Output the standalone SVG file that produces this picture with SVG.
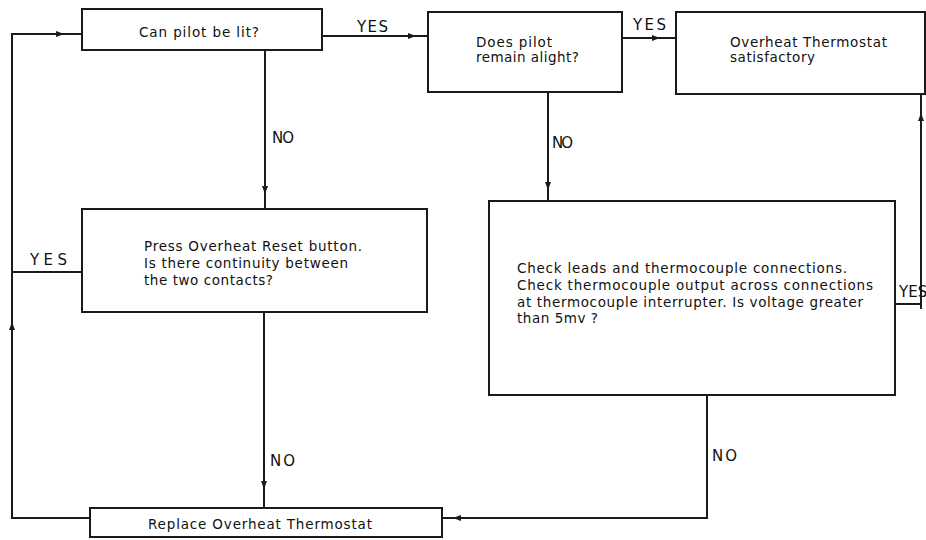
<svg xmlns="http://www.w3.org/2000/svg" width="926" height="540" viewBox="0 0 926 540">
<style>
.box{fill:#fff;stroke:#1a1a1a;stroke-width:2}
.ln{fill:none;stroke:#1a1a1a;stroke-width:2}
.t{font-family:"DejaVu Sans","Liberation Sans",sans-serif;font-size:13.5px;fill:#111}
.lb{font-family:"DejaVu Sans","Liberation Sans",sans-serif;font-size:15px;fill:#111}
</style>
<defs>
<marker id="ah" markerUnits="userSpaceOnUse" viewBox="0 0 8 6" refX="8" refY="3" markerWidth="8" markerHeight="6" orient="auto">
<path d="M0,0 L8,3 L0,6 z" fill="#1a1a1a"/>
</marker>
</defs>
<rect width="926" height="540" fill="#fff"/>
<g id="connectors">
<path class="ln" d="M90,518 H12 V322" marker-end="url(#ah)"/>
<path class="ln" d="M12,326 V34 H64" marker-end="url(#ah)"/>
<path class="ln" d="M60,34 H82"/>
<path class="ln" d="M82,272 H12"/>
<path class="ln" d="M322,36 H416" marker-end="url(#ah)"/>
<path class="ln" d="M412,36 H428"/>
<path class="ln" d="M622,38 H660" marker-end="url(#ah)"/>
<path class="ln" d="M656,38 H676"/>
<path class="ln" d="M265,50 V194" marker-end="url(#ah)"/>
<path class="ln" d="M265,190 V209"/>
<path class="ln" d="M548,92 V190" marker-end="url(#ah)"/>
<path class="ln" d="M548,186 V201"/>
<path class="ln" d="M264,312 V489" marker-end="url(#ah)"/>
<path class="ln" d="M264,485 V508"/>
<path class="ln" d="M707,395 V518 H453" marker-end="url(#ah)"/>
<path class="ln" d="M457,518 H442"/>
<path class="ln" d="M895,304 H921 V113" marker-end="url(#ah)"/>
<path class="ln" d="M921,117 V94"/>
<path class="ln" d="M921,300 V309"/>
<text class="lb" x="357" y="32" textLength="31">YES</text>
<text class="lb" x="633" y="30" textLength="33">YES</text>
<text class="lb" x="30" y="265" font-size="17" textLength="37">YES</text>
<text class="lb" x="272" y="143" textLength="22">NO</text>
<text class="lb" x="552" y="148" textLength="21">NO</text>
<text class="lb" x="270" y="466" textLength="25">NO</text>
<text class="lb" x="712" y="461" textLength="25">NO</text>
<text class="lb" x="899" y="297" font-size="14">YES</text>
</g>
<g id="n1">
<rect class="box" x="82" y="9" width="240" height="41"/>
<text class="t" x="139" y="37" textLength="120">Can pilot be lit?</text>
</g>
<g id="n2">
<rect class="box" x="428" y="12" width="194" height="80"/>
<text class="t" x="476" y="47" textLength="76">Does pilot</text>
<text class="t" x="476" y="62" textLength="103">remain alight?</text>
</g>
<g id="n3">
<rect class="box" x="676" y="12" width="249" height="82"/>
<text class="t" x="730" y="47" textLength="157">Overheat Thermostat</text>
<text class="t" x="730" y="62" textLength="85">satisfactory</text>
</g>
<g id="n4">
<rect class="box" x="82" y="209" width="345" height="103"/>
<text class="t" x="144" y="251" textLength="218">Press Overheat Reset button.</text>
<text class="t" x="144" y="268" textLength="204">Is there continuity between</text>
<text class="t" x="144" y="285" textLength="129">the two contacts?</text>
</g>
<g id="n5">
<rect class="box" x="489" y="201" width="406" height="194"/>
<text class="t" x="517" y="273" textLength="330">Check leads and thermocouple connections.</text>
<text class="t" x="517" y="290" textLength="356">Check thermocouple output across connections</text>
<text class="t" x="517" y="307" textLength="346">at thermocouple interrupter. Is voltage greater</text>
<text class="t" x="517" y="323" textLength="81">than 5mv ?</text>
</g>
<g id="n6">
<rect class="box" x="90" y="508" width="352" height="29"/>
<text class="t" x="148" y="529" textLength="224">Replace Overheat Thermostat</text>
</g>
</svg>
